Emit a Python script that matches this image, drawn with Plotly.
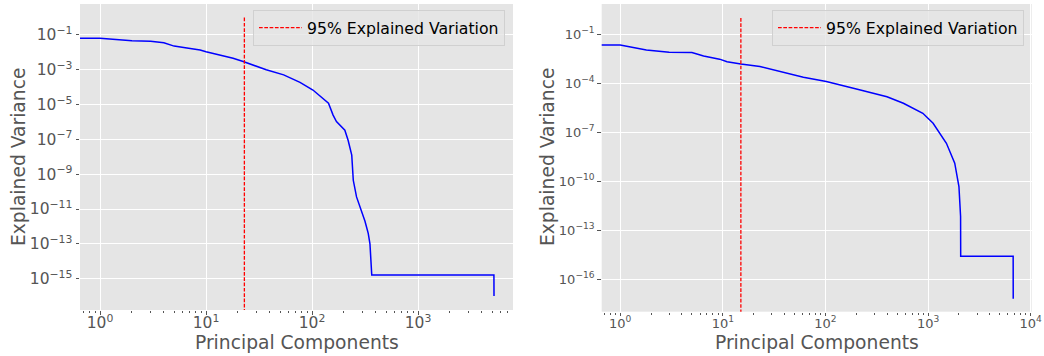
import plotly.graph_objects as go

# ---------------- data ----------------
# Left panel: explained variance per principal component
left_pc = [0.5, 1, 2, 3, 4, 5, 6.6, 8.8, 10, 13.5, 18, 22.4, 30, 37, 54, 70, 77,
           102, 143, 158, 170, 204, 219, 237, 245, 263, 282, 316, 339, 352, 366, 5200, 5210]
left_var = [0.065, 0.065, 0.047, 0.043, 0.036, 0.023, 0.018, 0.0138, 0.011, 0.0071, 0.0046,
            0.0030, 0.0015, 0.001, 5.1e-4, 2.3e-4, 1.9e-4,
            6.9e-5, 1.2e-5, 2.5e-6, 1.05e-6, 3.4e-7, 8.9e-8, 1.26e-8, 4.5e-10, 5e-11, 1.6e-11,
            2e-12, 4e-13, 1e-13, 1.6e-15, 1.6e-15, 1e-16]
left_cut = 23  # 95% explained variation

# Right panel
right_pc = [0.5, 1, 1.8, 3, 5, 6.5, 9.3, 11, 15, 23, 61, 102, 219, 398, 575, 890,
            1120, 1510, 1820, 2000, 2075, 2080, 6750, 6760]
right_var = [0.022, 0.022, 0.011, 0.0079, 0.0076, 0.0047, 0.003, 0.0021, 0.0015, 0.00105,
             2.3e-4, 1.26e-4, 3.9e-5, 1.5e-5, 5.9e-6, 1.45e-6,
             3.5e-7, 2.1e-8, 1.26e-9, 4.7e-11, 6.8e-13, 2.5e-15, 2.5e-15, 6.3e-18]
right_cut = 15

cut_span = [1.0, 1e-25]  # vertical line drawn from 1 down past the bottom

left_ytick_exp = [-1, -3, -5, -7, -9, -11, -13, -15]
right_ytick_exp = [-1, -4, -7, -10, -13, -16]
left_xtick_exp = [0, 1, 2, 3]
right_xtick_exp = [0, 1, 2, 3, 4]
minor_mult = [2, 3, 4, 5, 6, 7, 8, 9]
minor_decades = [-1, 0, 1, 2, 3]

legend_label = "95% Explained Variation"
x_title = "Principal Components"
y_title = "Explained Variance"

# ---------------- style ----------------
W, H = 1044, 356
BG = "#E5E5E5"
TXT = "#555555"
FONT = "DejaVu Sans"


def px_x(p):
    return p / W


def px_y(p):
    return 1 - p / H


def labels(exps):
    return ["10<sup>" + (("\u2212" + str(-e)) if e < 0 else str(e)) + "</sup>" for e in exps]


minor_vals = [m * 10 ** d for d in minor_decades for m in minor_mult]

fig = go.Figure()

fig.add_trace(go.Scatter(x=left_pc, y=left_var, mode="lines",
                         line=dict(color="#0000FF", width=1.5),
                         xaxis="x", yaxis="y", showlegend=False))
fig.add_trace(go.Scatter(x=[left_cut, left_cut], y=cut_span, mode="lines",
                         line=dict(color="#FF0000", width=1.3, dash="3.7px,1.6px"),
                         name=legend_label, xaxis="x", yaxis="y", legend="legend"))
fig.add_trace(go.Scatter(x=right_pc, y=right_var, mode="lines",
                         line=dict(color="#0000FF", width=1.5),
                         xaxis="x2", yaxis="y2", showlegend=False))
fig.add_trace(go.Scatter(x=[right_cut, right_cut], y=cut_span, mode="lines",
                         line=dict(color="#FF0000", width=1.3, dash="3.7px,1.6px"),
                         name=legend_label, xaxis="x2", yaxis="y2", legend="legend2"))

common_axis = dict(type="log", showgrid=True, gridcolor="white", gridwidth=1,
                   zeroline=False, showline=False, ticks="outside", ticklen=3.5,
                   tickcolor=TXT, automargin=False, tickfont=dict(family=FONT, color=TXT))
minor_x = dict(ticks="outside", ticklen=2, tickcolor=TXT, showgrid=False,
               tickmode="array", tickvals=minor_vals)
legend_style = dict(xanchor="right", y=px_y(10), yanchor="top", itemwidth=43,
                    bgcolor="rgba(229,229,229,0.8)", bordercolor="#D0D0D0", borderwidth=1,
                    font=dict(family=FONT, color="black", size=15.7))

fig.update_layout(
    width=W, height=H,
    margin=dict(l=0, r=0, t=0, b=0),
    paper_bgcolor="white",
    plot_bgcolor=BG,
    template="none",
    font=dict(family=FONT, color=TXT),
    xaxis=dict(common_axis, domain=[px_x(80), px_x(513)], anchor="y",
               range=[-0.189, 3.896], ticklabelstandoff=-5,
               tickvals=[10 ** e for e in left_xtick_exp], ticktext=labels(left_xtick_exp),
               tickfont=dict(family=FONT, color=TXT, size=15.5),
               minor=minor_x),
    yaxis=dict(common_axis, domain=[px_y(310), px_y(4)], anchor="x",
               range=[-16.8, 0.78],
               tickvals=[10 ** e for e in left_ytick_exp], ticktext=labels(left_ytick_exp),
               tickfont=dict(family=FONT, color=TXT, size=15.5)),
    xaxis2=dict(common_axis, domain=[px_x(601.7), px_x(1031.7)], anchor="y2",
                range=[-0.18, 4.01], ticklabelstandoff=-4,
                tickvals=[10 ** e for e in right_xtick_exp], ticktext=labels(right_xtick_exp),
                tickfont=dict(family=FONT, color=TXT, size=13),
                minor=minor_x),
    yaxis2=dict(common_axis, domain=[px_y(311.7), px_y(4)], anchor="x2",
                range=[-18.0, 0.856],
                tickvals=[10 ** e for e in right_ytick_exp], ticktext=labels(right_ytick_exp),
                tickfont=dict(family=FONT, color=TXT, size=13)),
    legend=dict(legend_style, x=px_x(505)),
    legend2=dict(legend_style, x=px_x(1024)),
    annotations=[
        dict(text=x_title, xref="paper", yref="paper", x=px_x(296.5), y=px_y(342),
             xanchor="center", yanchor="middle", showarrow=False,
             font=dict(family=FONT, color=TXT, size=18.7)),
        dict(text=x_title, xref="paper", yref="paper", x=px_x(816.7), y=px_y(342),
             xanchor="center", yanchor="middle", showarrow=False,
             font=dict(family=FONT, color=TXT, size=18.7)),
        dict(text=y_title, xref="paper", yref="paper", x=px_x(18), y=px_y(157),
             xanchor="center", yanchor="middle", showarrow=False, textangle=-90,
             font=dict(family=FONT, color=TXT, size=18.7)),
        dict(text=y_title, xref="paper", yref="paper", x=px_x(547), y=px_y(157),
             xanchor="center", yanchor="middle", showarrow=False, textangle=-90,
             font=dict(family=FONT, color=TXT, size=18.7)),
    ],
)

fig.write_html("out.html")
